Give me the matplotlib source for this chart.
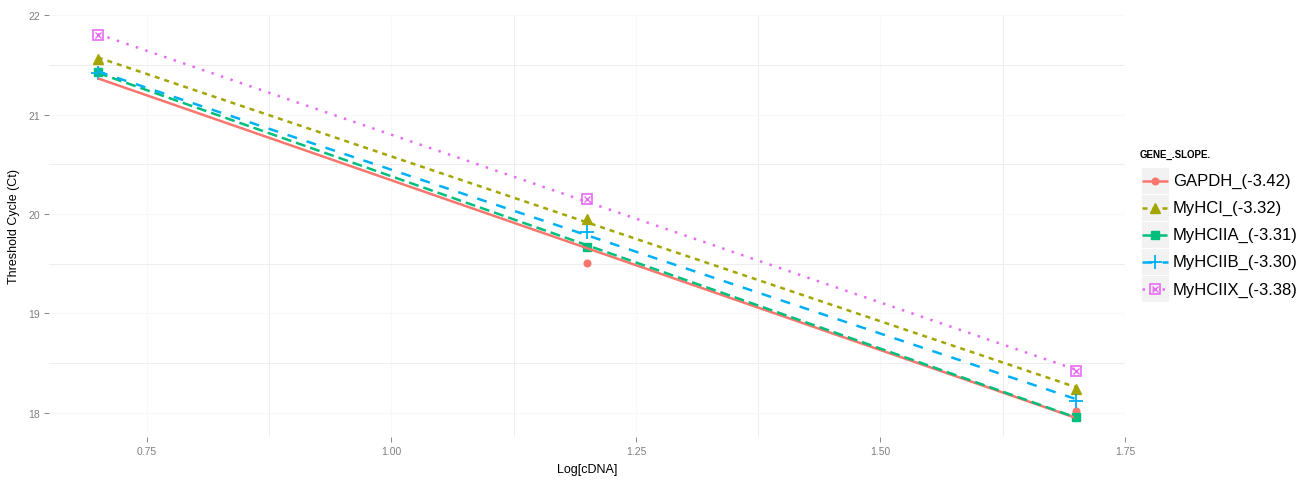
import numpy as np
import matplotlib
matplotlib.use("Agg")
import matplotlib.pyplot as plt
from matplotlib.patches import Rectangle
from matplotlib.ticker import MultipleLocator, FormatStrFormatter

plt.rcParams['font.family'] = ['Liberation Sans', 'DejaVu Sans']

# qPCR standard curve data
log_cdna = [0.7, 1.2, 1.7]
genes = ["GAPDH", "MyHCI", "MyHCIIA", "MyHCIIB", "MyHCIIX"]
slopes = ["-3.42", "-3.32", "-3.31", "-3.30", "-3.38"]
ct_gapdh = [21.44, 19.51, 18.02]
ct_myhci = [21.56, 19.95, 18.24]
ct_myhciia = [21.43, 19.67, 17.96]
ct_myhciib = [21.42, 19.82, 18.12]
ct_myhciix = [21.80, 20.15, 18.42]
ct_values = [ct_gapdh, ct_myhci, ct_myhciia, ct_myhciib, ct_myhciix]

colors = ["#F8766D", "#A3A500", "#00BF7D", "#00B0F6", "#E76BF3"]
dashes = [None, (2, 2), (4, 2), (4, 4), (1, 3)]
LW = 1.8

W, H = 1313, 481
fig = plt.figure(figsize=(W / 100, H / 100), dpi=100)
ax = fig.add_axes([49 / W, 1 - 438.2 / H, (1125 - 49) / W, (438.2 - 15.8) / H])
ax.set_facecolor("white")
for s in ax.spines.values():
    s.set_visible(False)


def draw_marker(a, i, x, y, z=3):
    c = colors[i]
    if i == 0:
        a.plot(x, y, 'o', ms=4.8, color=c, mec=c, zorder=z)
    elif i == 1:
        a.plot(x, y, '^', ms=7.5, color=c, mec=c, zorder=z)
    elif i == 2:
        a.plot(x, y, 's', ms=6.3, color=c, mec=c, zorder=z)
    elif i == 3:
        a.plot(x, y, '+', ms=10, mew=1.3, color=c, zorder=z)
    else:
        a.plot(x, y, 's', ms=7.2, mfc='none', mec=c, mew=1.2, zorder=z)
        a.plot(x, y, 'x', ms=4.8, mew=1.0, color=c, zorder=z)


xs = np.array(log_cdna)
for i, (gene, ys) in enumerate(zip(genes, ct_values)):
    draw_marker(ax, i, xs, ys, z=3)
    k, b = np.polyfit(xs, ys, 1)
    xf = np.linspace(xs.min(), xs.max(), 80)
    ln, = ax.plot(xf, k * xf + b, color=colors[i], lw=LW, zorder=4,
                  solid_capstyle='butt', dash_capstyle='butt')
    if dashes[i] is not None:
        ln.set_dashes(dashes[i])

ax.xaxis.set_major_locator(MultipleLocator(0.25))
ax.xaxis.set_minor_locator(MultipleLocator(0.125))
ax.yaxis.set_major_locator(MultipleLocator(1))
ax.yaxis.set_minor_locator(MultipleLocator(0.5))
ax.xaxis.set_major_formatter(FormatStrFormatter('%.2f'))
ax.yaxis.set_major_formatter(FormatStrFormatter('%d'))
ax.grid(which='major', color='#F8F8F8', lw=0.8, zorder=0)
ax.grid(which='minor', color='#EEEEEE', lw=0.8, zorder=0)
ax.set_axisbelow(True)
ax.tick_params(which='major', length=3.5, width=0.7, color='#888888',
               labelcolor='#7F7F7F', labelsize=7.5, pad=3)
ax.tick_params(which='minor', length=0)
ax.set_xlabel("Log[cDNA]", fontsize=9, color='black', labelpad=5)
ax.set_ylabel("Threshold Cycle (Ct)", fontsize=9, color='black', labelpad=6)

# Legend drawn in pixel coordinates
lg = fig.add_axes([0, 0, 1, 1])
lg.set_xlim(0, W)
lg.set_ylim(H, 0)
lg.axis('off')
lg.patch.set_visible(False)
lg.text(1140, 155, "GENE_.SLOPE.", fontsize=7, fontweight='bold',
        va='center', ha='left')
row_y = [181.5, 208.5, 235.5, 262.5, 290]
for i, gene in enumerate(genes):
    yc = row_y[i]
    lg.add_patch(Rectangle((1141.5, yc - 13), 27, 26, color='#F2F2F2', lw=0, zorder=1))
    ln, = lg.plot([1142, 1168], [yc, yc], color=colors[i], lw=LW, zorder=2,
                  solid_capstyle='butt', dash_capstyle='butt')
    if dashes[i] is not None:
        ln.set_dashes(dashes[i])
    draw_marker(lg, i, [1155], [yc], z=3)
    lg.text(1173, yc, f"{gene}_({slopes[i]})", fontsize=12, va='center', ha='left')

fig.savefig("out.png", dpi=100, facecolor='white')
